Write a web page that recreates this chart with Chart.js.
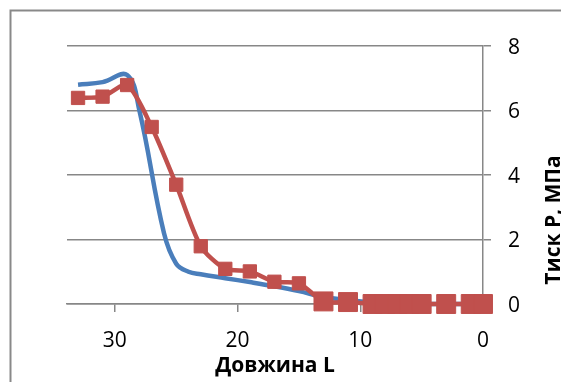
<!DOCTYPE html>
<html><head><meta charset="utf-8">
<script src="https://cdn.jsdelivr.net/npm/chart.js@4"></script>
<style>html,body{margin:0;padding:0;background:#fff}#wrap{width:561px;height:382px;position:relative}</style>
</head><body><div id="wrap"><canvas id="c" width="561" height="382"></canvas></div>
<script>
const lengthRed = [33,31,29,27,25,23,21,19,17,15,13,11,9,8,7,6,5,3,1,0];
const pressureRed = [6.39,6.43,6.79,5.49,3.70,1.79,1.09,1.01,0.69,0.64,0.08,0.06,0,0,0,0,0,0,0,0];
const lengthBlue = [33,31,29,28,26,25,24,23,21,19,17,15,13,11,9,7,5,3,1,0];
const pressureBlue = [6.8,6.88,7.1,6.0,2.2,1.25,1.0,0.92,0.8,0.68,0.55,0.4,0.22,0.12,0.05,0,0,0,0,0];
const xTicks = [0,10,20,30];
const yTicks = [0,2,4,6,8];
const xTitle = 'Довжина L';
const yTitle = 'Тиск Р, МПа';

const GRID = '#878787';
const FONT = "'Open Sans', 'Liberation Sans', sans-serif";

const framePlugin = {
  id: 'frame',
  beforeDraw(chart) {
    const c = chart.ctx;
    c.save();
    c.strokeStyle = '#898989';
    c.lineWidth = 2;
    c.beginPath();
    c.moveTo(10.5, 382); c.lineTo(10.5, 10.5); c.lineTo(561, 10.5);
    c.stroke();
    c.restore();
  },
  afterDraw(chart) {
    const c = chart.ctx;
    c.save();
    c.translate(560, 220);
    c.rotate(-Math.PI / 2);
    c.font = "bold 21px " + FONT;
    c.fillStyle = '#000';
    c.textAlign = 'center';
    c.textBaseline = 'alphabetic';
    c.fillText(yTitle, 0, 0);
    c.restore();
  }
};

new Chart(document.getElementById('c'), {
  type: 'scatter',
  data: {
    datasets: [
      {
        label: 'red',
        data: lengthRed.map((x, i) => ({x, y: pressureRed[i]})),
        showLine: true,
        borderColor: '#C0504D',
        backgroundColor: '#C0504D',
        borderWidth: 4.5,
        tension: 0.25,
        pointStyle: 'rect',
        pointRadius: ctx => (ctx.raw && ctx.raw.y < 0.2) ? 13.4 : 9.4,
        pointBorderWidth: 1,
        pointBorderColor: '#C0504D',
        pointBackgroundColor: '#C0504D',
        clip: false
      },
      {
        label: 'blue',
        data: lengthBlue.map((x, i) => ({x, y: pressureBlue[i]})),
        showLine: true,
        borderColor: '#4A7EBB',
        borderWidth: 4.5,
        tension: 0.4,
        pointRadius: 0,
        clip: false
      }
    ]
  },
  options: {
    responsive: false,
    animation: false,
    layout: { padding: { left: 67, top: 46, right: 0, bottom: 0 } },
    plugins: { legend: { display: false }, tooltip: { enabled: false } },
    scales: {
      x: {
        type: 'linear',
        position: 'bottom',
        reverse: true,
        min: 0,
        max: 33.9,
        afterBuildTicks: s => { s.ticks = xTicks.map(v => ({value: v})); },
        afterFit: s => { s.height = 78; },
        grid: { display: true, drawOnChartArea: false, drawTicks: true, tickLength: 8, color: GRID, lineWidth: 1.5 },
        border: { display: true, color: GRID, width: 1.5 },
        ticks: { font: { family: FONT, size: 21 }, color: '#000', padding: 16, maxRotation: 0 },
        title: { display: true, text: xTitle, font: { family: FONT, size: 21, weight: 'bold' }, color: '#000', padding: { top: 0, bottom: 3 } }
      },
      y: {
        type: 'linear',
        position: 'right',
        min: 0,
        max: 8,
        afterBuildTicks: s => { s.ticks = yTicks.map(v => ({value: v})); },
        afterFit: s => { s.width = 78; },
        grid: { display: true, drawOnChartArea: true, drawTicks: true, tickLength: 8, color: GRID, lineWidth: 1.5 },
        border: { display: true, color: GRID, width: 1.5 },
        ticks: { font: { family: FONT, size: 21 }, color: '#000', padding: 17, labelOffset: 2 }
      }
    }
  },
  plugins: [framePlugin]
});
</script>
</body></html>
